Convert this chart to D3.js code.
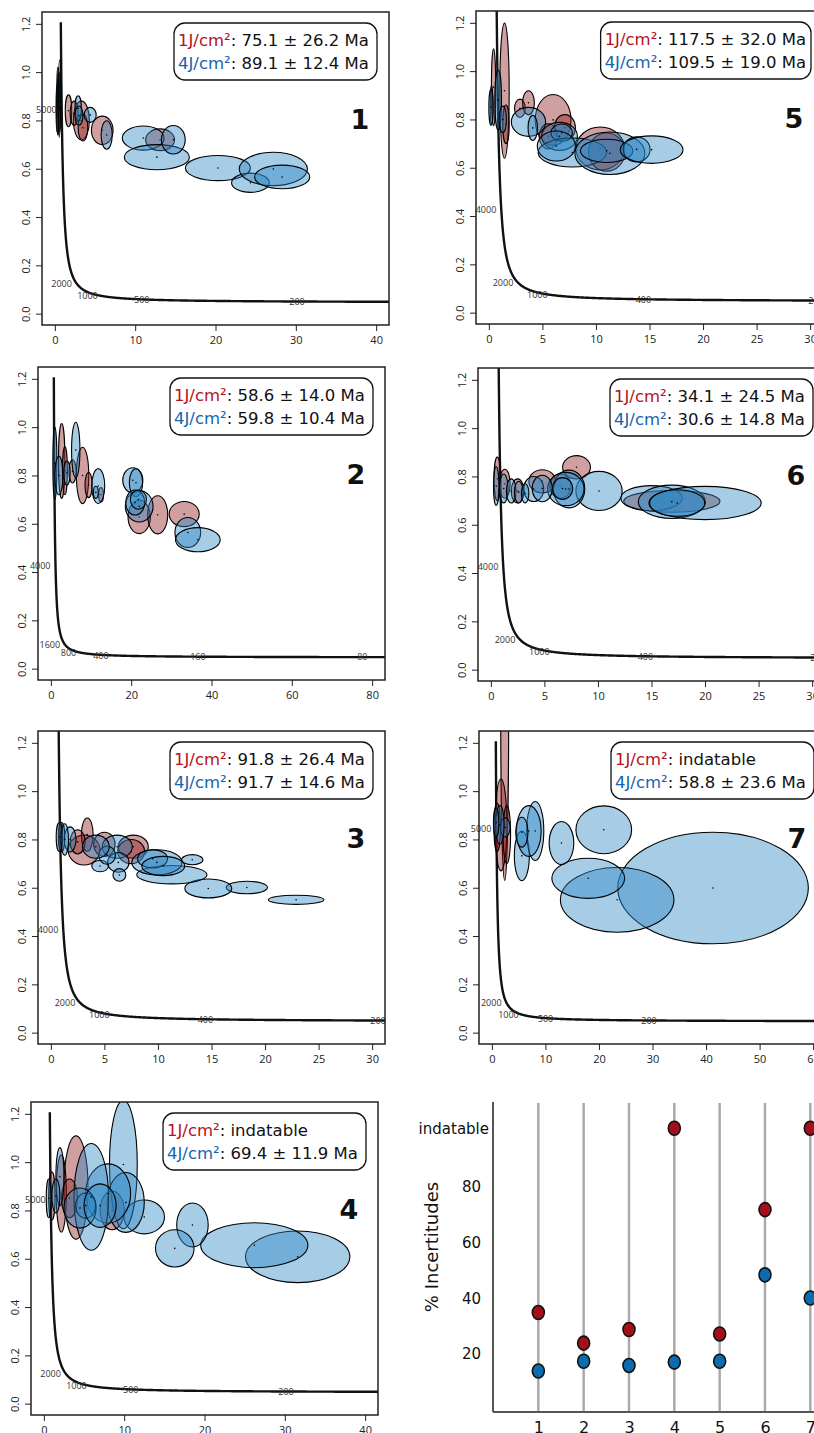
<!DOCTYPE html>
<html><head><meta charset="utf-8">
<script src="https://cdn.jsdelivr.net/npm/d3@7"></script>
<style>body{margin:0;background:#fff}svg{display:block}</style>
</head><body>
<svg id="c" width="814" height="1433"></svg>
<script>
// ---------- DATA ----------
const panelNames = ["1","5","2","6","3","7","4"];
const legendRed  = ["75.1 ± 26.2 Ma","117.5 ± 32.0 Ma","58.6 ± 14.0 Ma","34.1 ± 24.5 Ma","91.8 ± 26.4 Ma","indatable","indatable"];
const legendBlue = ["89.1 ± 12.4 Ma","109.5 ± 19.0 Ma","59.8 ± 10.4 Ma","30.6 ± 14.8 Ma","91.7 ± 14.6 Ma","58.8 ± 23.6 Ma","69.4 ± 11.9 Ma"];
const xMax = [40, 30, 80, 30, 30, 60, 40];
const xTicks = [[0,10,20,30,40],[0,5,10,15,20,25,30],[0,20,40,60,80],[0,5,10,15,20,25,30],[0,5,10,15,20,25,30],[0,10,20,30,40,50,60],[0,10,20,30,40]];
const yTicks = [0,0.2,0.4,0.6,0.8,1.0,1.2];
const ageLabels = [[5000,2000,1000,500,200],[4000,2000,1000,400,200],[4000,1600,800,400,160,80],[4000,2000,1000,400,200],[4000,2000,1000,400,200],[5000,2000,1000,500,200,100],[5000,2000,1000,500,200]];
const maxAge = [5500,5800,5500,5800,5800,5500,5500];

// ellipses: [x, y, sx, sy] (238U/206Pb, 207Pb/206Pb, semi-axes)
const red1 = [[13.1,0.72,1.8,0.045],[5.9,0.759,1.35,0.059],[3.3,0.80,1.0,0.08],[3.5,0.77,0.6,0.055],[1.7,0.84,0.4,0.066],[2.4,0.83,0.5,0.05],[0.5,0.88,0.2,0.12],[0.3,0.85,0.15,0.1]];
const blue1 = [[11.0,0.727,2.6,0.05],[12.7,0.648,4.05,0.052],[14.75,0.72,1.48,0.059],[20.3,0.603,4.05,0.052],[24.35,0.542,2.35,0.04],[27.2,0.599,4.24,0.069],[28.3,0.566,3.43,0.049],[4.4,0.823,0.75,0.031],[6.45,0.74,0.69,0.059],[2.9,0.85,0.4,0.052],[3.0,0.82,0.5,0.04],[0.6,0.9,0.15,0.15],[0.4,0.82,0.12,0.08],[0.35,0.88,0.12,0.14],[0.55,0.85,0.1,0.12],[0.45,0.92,0.08,0.1]];
const red5 = [[1.46,0.919,0.44,0.28],[0.44,0.933,0.2,0.16],[1.6,0.78,0.3,0.08],[2.9,0.846,0.5,0.038],[3.7,0.869,0.55,0.05],[6.0,0.798,1.67,0.105],[7.1,0.766,0.98,0.054],[5.55,0.73,0.86,0.052],[10.4,0.68,2.26,0.089],[11.0,0.665,1.7,0.079],[0.25,0.86,0.12,0.08]];
const blue5 = [[0.87,0.881,0.31,0.124],[0.2,0.85,0.2,0.075],[1.3,0.80,0.34,0.055],[3.7,0.79,1.6,0.06],[4.1,0.765,0.44,0.052],[6.6,0.73,1.67,0.058],[6.8,0.745,1.0,0.036],[7.8,0.663,3.2,0.06],[6.3,0.69,1.78,0.062],[11.3,0.66,3.27,0.088],[11.0,0.67,2.45,0.048],[13.8,0.676,1.25,0.052],[15.2,0.675,2.93,0.057]];
const red2 = [[2.7,0.86,0.8,0.155],[3.5,0.82,0.6,0.1],[5.4,0.817,0.9,0.048],[7.9,0.80,1.54,0.117],[9.4,0.76,0.9,0.052],[22.0,0.628,2.78,0.069],[26.6,0.637,2.5,0.079],[33.2,0.64,3.74,0.052],[12.5,0.72,0.6,0.03]];
const blue2 = [[6.2,0.905,1.04,0.115],[11.8,0.756,1.62,0.072],[11.2,0.73,0.6,0.025],[1.0,0.85,0.5,0.15],[2.0,0.8,1.0,0.08],[4.0,0.81,0.8,0.05],[20.4,0.78,2.5,0.052],[21.2,0.77,1.66,0.058],[22.0,0.672,3.45,0.065],[21.0,0.688,2.37,0.052],[21.8,0.70,2.0,0.04],[34.1,0.564,3.2,0.062],[36.6,0.534,5.57,0.05]];
const red6 = [[8.0,0.838,1.3,0.048],[4.8,0.78,1.25,0.048],[16.9,0.697,4.5,0.045],[0.6,0.79,0.3,0.09],[1.3,0.77,0.5,0.06],[2.5,0.74,0.6,0.05],[6.5,0.76,1.0,0.05]];
const blue6 = [[10.1,0.74,2.16,0.081],[7.3,0.748,1.47,0.078],[7.0,0.748,1.7,0.069],[6.7,0.75,0.94,0.045],[4.0,0.748,0.94,0.052],[4.8,0.75,0.94,0.055],[0.5,0.76,0.25,0.08],[1.2,0.75,0.4,0.06],[1.9,0.74,0.45,0.05],[2.6,0.735,0.4,0.045],[3.2,0.73,0.35,0.04],[15.0,0.71,2.86,0.052],[16.9,0.695,3.13,0.069],[20.0,0.69,5.24,0.069],[17.4,0.69,2.58,0.055]];
const red3 = [[7.7,0.77,1.4,0.048],[7.5,0.75,1.25,0.05],[3.1,0.756,1.48,0.062],[3.4,0.82,0.55,0.069],[2.5,0.79,0.7,0.05],[5.0,0.78,1.0,0.05],[1.0,0.81,0.3,0.06]];
const blue3 = [[22.9,0.55,2.6,0.019],[18.3,0.601,1.92,0.026],[14.7,0.597,2.19,0.039],[13.2,0.716,1.0,0.021],[11.3,0.654,3.28,0.038],[9.9,0.705,2.34,0.052],[9.5,0.72,1.4,0.038],[10.5,0.69,2.0,0.04],[6.2,0.77,1.4,0.048],[6.3,0.705,1.0,0.041],[6.4,0.653,0.6,0.026],[4.6,0.69,0.78,0.024],[5.25,0.735,0.78,0.038],[4.2,0.77,1.25,0.048],[1.8,0.80,0.55,0.052],[0.8,0.81,0.3,0.06],[1.3,0.8,0.35,0.065]];
const red7 = [[2.4,1.4,0.75,0.77],[1.7,0.86,1.1,0.19],[1.0,0.85,0.6,0.1],[2.8,0.82,0.7,0.12]];
const blue7 = [[41.3,0.599,17.8,0.231],[23.4,0.55,10.6,0.134],[18.0,0.639,6.8,0.083],[20.9,0.84,5.2,0.099],[13.0,0.785,2.3,0.089],[5.6,0.732,1.4,0.103],[8.1,0.835,1.6,0.122],[6.9,0.835,2.3,0.105],[5.6,0.83,1.15,0.062],[2.5,0.85,0.9,0.04],[1.5,0.86,0.8,0.08],[0.8,0.87,0.5,0.06]];
const red4 = [[4.0,0.895,1.5,0.214],[2.17,0.87,0.63,0.16],[1.0,0.86,0.4,0.1],[3.2,0.85,1.0,0.08],[8.5,0.80,1.5,0.08]];
const blue4 = [[31.6,0.608,6.5,0.107],[26.2,0.656,6.67,0.093],[18.5,0.74,1.96,0.091],[16.3,0.643,2.4,0.077],[12.5,0.773,2.52,0.07],[9.9,0.99,1.73,0.266],[10.2,0.833,2.3,0.124],[8.0,0.87,2.8,0.123],[5.9,0.856,2.15,0.221],[5.2,0.82,1.25,0.052],[4.5,0.81,2.0,0.083],[7.0,0.82,2.0,0.09],[2.0,0.94,0.5,0.12],[0.6,0.85,0.3,0.08],[1.5,0.86,0.5,0.07]];
const redSets = [red1, red5, red2, red6, red3, red7, red4];
const blueSets = [blue1, blue5, blue2, blue6, blue3, blue7, blue4];

// summary chart
const samples = ["1","2","3","4","5","6","7"];
const pctRed  = [34.9, 23.9, 28.8, null, 27.2, 71.8, null];   // null = indatable
const pctBlue = [13.9, 17.4, 15.9, 17.1, 17.4, 48.4, 40.1];
const pctTicks = [20, 40, 60, 80];
const INDATABLE = 101;

// ---------- LAYOUT / STYLE ----------
const svg = d3.select("#c");
svg.append("rect").attr("width",814).attr("height",1433).attr("fill","#fff");
const boxes = [[42,12],[476,11],[38,367],[478,368],[38,731],[479,731],[31,1102]];
const BW = 347, BH = 313;
const RED_T = "#b5121b", BLUE_T = "#1565b0";
const HAND = "'DejaVu Sans', sans-serif";
const L238 = 1.55125e-10, L235 = 9.8485e-10, U85 = 137.88;
function tw(tMa){ const t = tMa*1e6; const a = Math.exp(L238*t)-1, b = Math.exp(L235*t)-1; return [1/a, b/a/U85]; }

panelNames.forEach((name, i) => {
  const [bx, by] = boxes[i];
  const ext = xMax[i]*0.04;
  const x = d3.scaleLinear().domain([-ext, xMax[i]+ext]).range([bx, bx+BW]);
  const y = d3.scaleLinear().domain([-0.047, 1.249]).range([by+BH, by]);
  const g = svg.append("g");
  const cid = "clip"+i;
  svg.append("clipPath").attr("id",cid).append("rect").attr("x",bx).attr("y",by).attr("width",BW).attr("height",BH);
  const inner = g.append("g").attr("clip-path",`url(#${cid})`);

  // concordia
  const tmin = Math.log(1+1/(xMax[i]+ext))/L238/1e6;
  const logs = d3.range(0, 401).map(k => Math.exp(Math.log(tmin) + (Math.log(maxAge[i])-Math.log(tmin))*k/400));
  inner.append("path").datum(logs.map(tw))
    .attr("d", d3.line().x(d=>x(d[0])).y(d=>y(d[1])))
    .attr("fill","none").attr("stroke","#111").attr("stroke-width",2.4);

  // ellipses
  const drawE = (data, col) => {
    inner.selectAll(null).data(data).join("ellipse")
      .attr("cx", d => x(d[0])).attr("cy", d => y(d[1]))
      .attr("rx", d => Math.abs(x(d[0]+d[2]) - x(d[0]))).attr("ry", d => Math.abs(y(d[1]+d[3]) - y(d[1])))
      .attr("fill", col).attr("fill-opacity", 0.42).attr("stroke","#000").attr("stroke-width",1.1);
    inner.selectAll(null).data(data).join("circle")
      .attr("cx", d => x(d[0])).attr("cy", d => y(d[1])).attr("r",0.8).attr("fill","#000");
  };
  drawE(redSets[i], "#8e1a1a");
  drawE(blueSets[i], "#2a86c4");

  // age labels (not clipped)
  g.selectAll("text.age").data(ageLabels[i]).join("text")
    .attr("x", a => x(tw(a)[0]) - 5).attr("y", a => y(tw(a)[1]))
    .attr("dy","0.35em").attr("text-anchor","end")
    .attr("font-family","'Open Sans', sans-serif").attr("font-size",9).attr("fill","#333")
    .text(a => a);

  // box
  g.append("rect").attr("x",bx).attr("y",by).attr("width",BW).attr("height",BH)
    .attr("fill","none").attr("stroke","#222").attr("stroke-width",1.5);

  // axes
  const yAx = d3.axisLeft(y).tickValues(yTicks).tickFormat(d3.format(".1f")).tickSize(6).tickPadding(4);
  const ya = g.append("g").attr("transform",`translate(${bx},0)`).call(yAx);
  ya.select(".domain").remove();
  ya.selectAll("line").attr("stroke","#222");
  ya.selectAll("text").attr("transform", "rotate(-90, -16, 0)")
    .attr("x",-16).attr("y",0).attr("dy","0.35em").attr("text-anchor","middle")
    .attr("font-family","'Open Sans', sans-serif").attr("font-size",11).attr("fill","#222");
  const xAx = d3.axisBottom(x).tickValues(xTicks[i]).tickSize(6).tickPadding(5);
  const xa = g.append("g").attr("transform",`translate(0,${by+BH})`).call(xAx);
  xa.select(".domain").remove();
  xa.selectAll("line").attr("stroke","#222");
  xa.selectAll("text").attr("font-family","'Open Sans', sans-serif").attr("font-size",11).attr("fill","#222");

  // legend
  const lg = g.append("g");
  const t1 = lg.append("text").attr("font-family",HAND).attr("font-size",16.5);
  t1.append("tspan").attr("fill",RED_T).text("1J/cm²");
  t1.append("tspan").attr("fill","#111").text(": " + legendRed[i]);
  const t2 = lg.append("text").attr("font-family",HAND).attr("font-size",16.5);
  t2.append("tspan").attr("fill",BLUE_T).text("4J/cm²");
  t2.append("tspan").attr("fill","#111").text(": " + legendBlue[i]);
  const w = Math.max(t1.node().getComputedTextLength(), t2.node().getComputedTextLength()) + 9;
  const lw = Math.max(w, 203);
  const lx = bx + BW - 12 - lw, ly = by + 11;
  lg.insert("rect","text").attr("x",lx).attr("y",ly).attr("width",lw).attr("height",57)
    .attr("rx",11).attr("fill","#fff").attr("stroke","#111").attr("stroke-width",1.3);
  t1.attr("x", lx+4).attr("y", ly+23);
  t2.attr("x", lx+4).attr("y", ly+46);

  // panel number
  g.append("text").attr("x", bx+318).attr("y", by+108).attr("dy","0.35em").attr("text-anchor","middle")
    .attr("font-family",HAND).attr("font-size",27).attr("font-weight","bold").attr("fill","#111").text(name);
});

// ---------- SUMMARY CHART ----------
const sx = d3.scaleLinear().domain([0, 8]).range([493, 493 + 8*45.33]);
const sy = d3.scaleLinear().domain([-0.8, 110.4]).range([1412, 1102]);
const sg = svg.append("g");
sg.selectAll("line.stem").data(samples).join("line")
  .attr("x1",(d,i)=>sx(i+1)).attr("x2",(d,i)=>sx(i+1)).attr("y1",sy(110)).attr("y2",sy(-0.8))
  .attr("stroke","#aaa").attr("stroke-width",2.5);
const ax = d3.axisBottom(sx).tickValues(d3.range(1,8)).tickFormat((d)=>samples[d-1]).tickSize(0).tickPadding(10);
const axg = sg.append("g").attr("transform","translate(0,1412)").call(ax);
axg.select(".domain").attr("d","M493,0H814").attr("stroke","#555").attr("stroke-width",2);
axg.selectAll("text").attr("font-family",HAND).attr("font-size",16).attr("fill","#111");
const ay = d3.axisLeft(sy).tickValues(pctTicks.concat([INDATABLE]))
  .tickFormat(d => d === INDATABLE ? "indatable" : d).tickSize(0).tickPadding(12);
const ayg = sg.append("g").attr("transform","translate(493,0)").call(ay);
ayg.select(".domain").attr("d",`M0,${sy(110.4)}V${sy(-0.8)}`).attr("stroke","#555").attr("stroke-width",2);
ayg.selectAll("text").attr("font-family",HAND).attr("font-size",15).attr("fill","#111");
ayg.selectAll(".tick").filter(d => d === INDATABLE).select("text").attr("dx",8);
sg.append("text").attr("transform","translate(438,1247) rotate(-90)").attr("text-anchor","middle")
  .attr("font-family",HAND).attr("font-size",18).attr("fill","#111").text("% Incertitudes");
const dot = (vals, col) => sg.selectAll(null).data(vals.map((v,i)=>[i+1, v===null?INDATABLE:v])).join("ellipse")
  .attr("cx", d=>sx(d[0])).attr("cy", d=>sy(d[1])).attr("rx",6).attr("ry",7)
  .attr("fill",col).attr("stroke","#111").attr("stroke-width",1.6);
dot(pctRed, "#a3101a");
dot(pctBlue, "#0b6db0");
</script>
</body></html>
